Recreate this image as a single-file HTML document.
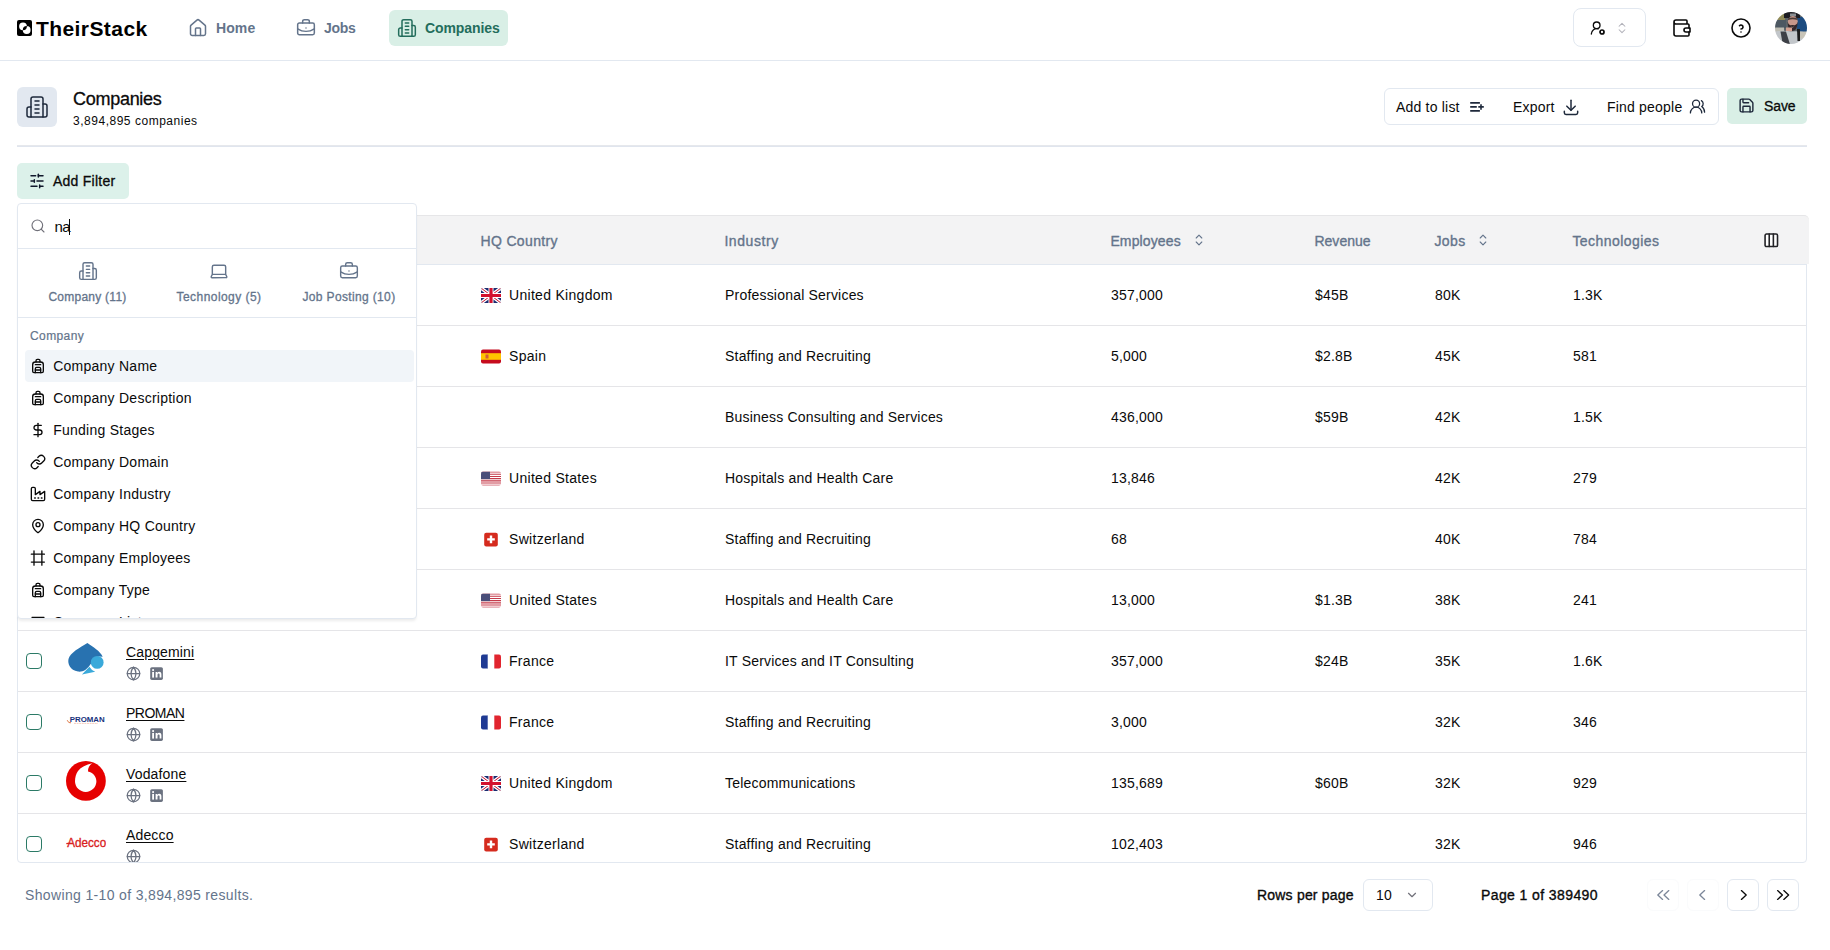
<!DOCTYPE html>
<html><head><meta charset="utf-8">
<style>
*{box-sizing:border-box;margin:0;padding:0}
html,body{width:1830px;height:950px;overflow:hidden;background:#fff}
body{font-family:"Liberation Sans",sans-serif;color:#0a0a0a;font-size:14px;position:relative}
.abs{position:absolute}
svg{display:block}
.nav{position:absolute;left:0;top:0;width:1830px;height:61px;border-bottom:1px solid #e2e8f0}
.logo-sq{position:absolute;left:17px;top:20px;width:15px;height:16px;background:#000;border-radius:2px}
.logo-t{position:absolute;left:36px;top:16px;font-size:21px;font-weight:700;letter-spacing:0.42px;line-height:26px;color:#000}
.ni{position:absolute;top:10px;height:36px;border-radius:6px;display:flex;align-items:center;font-weight:700;font-size:14px;color:#64748b;letter-spacing:0.1px}
.ni svg{margin-right:8px}
.ni.active{background:#d9efe6;color:#236d5c}
.t{position:absolute;white-space:nowrap;line-height:1}
.hdr-ic{position:absolute;left:17px;top:87px;width:40px;height:40px;background:#e2e8f0;border-radius:6px}
.title{position:absolute;left:73px;top:89px;font-size:18px;line-height:20px;letter-spacing:-0.28px;color:#0a0a0a;-webkit-text-stroke:0.3px #0a0a0a}
.sub{position:absolute;left:73px;top:113px;font-size:12px;line-height:16px;letter-spacing:0.52px;color:#0a0a0a}
.bgrp{position:absolute;left:1384px;top:88px;width:335px;height:37px;border:1px solid #e2e8f0;border-radius:6px}
.bt{position:absolute;top:99px;font-size:14px;line-height:16px;letter-spacing:0.2px;color:#0a0a0a;white-space:nowrap}
.save{position:absolute;left:1727px;top:88px;width:80px;height:36px;background:#d9efe6;border-radius:5px}
.sep{position:absolute;left:17px;top:145px;width:1790px;height:2px;background:linear-gradient(#e6e8ec 0 50%,#e0e5ee 50% 100%)}

.tbl{position:absolute;left:17px;top:215px;width:1790px;height:648px;border:1px solid #e2e8f0;border-radius:4px}
.thead{position:absolute;left:17px;top:215px;width:1792px;height:49px;background:#f3f3f4;border-top:1px solid #e6e6e8;border-radius:5px 5px 0 0}
.thb{position:absolute;left:18px;top:264px;width:1788px;height:1px;background:#e2e8f0}
.th{position:absolute;top:233px;font-size:14px;line-height:16px;color:#64748b;white-space:nowrap;-webkit-text-stroke:0.35px #64748b}
.row{position:absolute;left:0;width:1830px;height:60px}
.rl{position:absolute;left:18px;width:1788px;height:1px;background:#e5e5e8}
.row .c{position:absolute;top:20px;font-size:14px;line-height:20px;color:#0a0a0a;white-space:nowrap;letter-spacing:0.2px}
.row .cc{letter-spacing:0.3px}
.th{margin-left:-0.6px}
.chk{position:absolute;left:26px;top:22px;width:16px;height:16px;border:1px solid #2b7a66;border-radius:4px}
.lg{position:absolute;left:66px;top:10px;width:40px;height:40px}
.nm{position:absolute;left:126px;top:11px;font-size:14px;line-height:20px;color:#0a0a0a;text-decoration:underline;text-underline-offset:2px;letter-spacing:0.15px}
.ic1{position:absolute;left:126px;top:35px}
.ic2{position:absolute;left:149px;top:35px}
.fl{position:absolute;left:481px;top:22.5px}

.dd{position:absolute;left:17px;top:203px;width:400px;height:416px;background:#fff;border:1px solid #e2e8f0;border-radius:4px;box-shadow:0 3px 3px -1px rgba(0,0,0,0.08);overflow:hidden}
.dd .sr{position:absolute;left:0;top:0;width:100%;height:45px;border-bottom:1px solid #e2e8f0}
.dd .tabs{position:absolute;left:0;top:45px;width:100%;height:69px;border-bottom:1px solid #e2e8f0}
.dd .tab{position:absolute;top:0;height:69px;text-align:center;font-size:12px;color:#64748b;white-space:nowrap;letter-spacing:0.35px;-webkit-text-stroke:0.3px #64748b}
.dd .tab svg{position:absolute;left:50%;margin-left:-10px;top:12px}
.dd .tab span{position:absolute;left:0;right:0;top:41px;line-height:14px}
.dd .lbl{position:absolute;left:12px;top:125px;font-size:12px;line-height:14px;color:#64748b;letter-spacing:0.4px;-webkit-text-stroke:0.2px #64748b}
.dd .it{position:absolute;left:7px;width:389px;height:32px;border-radius:4px}
.dd .it.hl{background:#f1f5f9}
.dd .it svg{position:absolute;left:5px;top:8px}
.dd .it span{position:absolute;left:28.2px;top:6px;font-size:14px;line-height:20px;color:#0a0a0a;white-space:nowrap;letter-spacing:0.25px}
.addf{position:absolute;left:17px;top:163px;width:112px;height:36px;background:#dcf1ea;border-radius:5px}

</style></head><body>
<div class="nav">
  <div class="logo-sq"><svg width="15" height="16" viewBox="0 0 15 16"><path fill="#fff" fill-rule="evenodd" d="M2.1 6.3a3.9 3.9 0 1 0 7.8 0a3.9 3.9 0 1 0 -7.8 0Z M5.8 10a3.9 3.9 0 1 0 7.8 0a3.9 3.9 0 1 0 -7.8 0Z"/></svg></div>
  <div class="logo-t">TheirStack</div>
  <div class="ni" style="left:180px;padding:0 8px 0 8px"><svg width="20" height="20" viewBox="0 0 24 24" fill="none" stroke="#64748b" stroke-width="1.8" stroke-linecap="round" stroke-linejoin="round"><path d="M15 21v-8a1 1 0 0 0-1-1h-4a1 1 0 0 0-1 1v8"/><path d="M3 10a2 2 0 0 1 .709-1.528l7-5.999a2 2 0 0 1 2.582 0l7 5.999A2 2 0 0 1 21 10v9a2 2 0 0 1-2 2H5a2 2 0 0 1-2-2z"/></svg>Home</div>
  <div class="ni" style="left:288px;padding:0 8px 0 8px"><svg width="20" height="20" viewBox="0 0 24 24" fill="none" stroke="#64748b" stroke-width="1.8" stroke-linecap="round" stroke-linejoin="round"><path d="M12 12h.01"/><path d="M16 6V4a2 2 0 0 0-2-2h-4a2 2 0 0 0-2 2v2"/><path d="M22 13a18.15 18.15 0 0 1-20 0"/><rect width="20" height="14" x="2" y="6" rx="2"/></svg><span style="letter-spacing:-0.3px">Jobs</span></div>
  <div class="ni active" style="left:389px;width:119px;padding:0 0 0 8px"><svg width="20" height="20" viewBox="0 0 24 24" fill="none" stroke="#236d5c" stroke-width="1.8" stroke-linecap="round" stroke-linejoin="round"><path d="M6 22V4a2 2 0 0 1 2-2h8a2 2 0 0 1 2 2v18Z"/><path d="M6 12H4a2 2 0 0 0-2 2v6a2 2 0 0 0 2 2h2"/><path d="M18 9h2a2 2 0 0 1 2 2v9a2 2 0 0 1-2 2h-2"/><path d="M10 6h4"/><path d="M10 10h4"/><path d="M10 14h4"/><path d="M10 18h4"/></svg><span style="letter-spacing:-0.1px">Companies</span></div>

  <div class="abs" style="left:1573px;top:8px;width:73px;height:39px;border:1px solid #e2e8f0;border-radius:8px"></div>
  <svg class="abs" style="left:1590px;top:20px" width="16" height="16" viewBox="0 0 24 24" fill="none" stroke="#0a0a0a" stroke-width="2" stroke-linecap="round" stroke-linejoin="round"><path d="M2 21a8 8 0 0 1 10.434-7.62"/><circle cx="10" cy="8" r="5"/><circle cx="18" cy="18" r="3" stroke-width="2.6"/></svg>
  <svg class="abs" style="left:1615px;top:20.75px" width="14" height="14" viewBox="0 0 24 24" fill="none" stroke="#b2b2ba" stroke-width="1.8" stroke-linecap="round" stroke-linejoin="round"><path d="m7 15 5 5 5-5"/><path d="m7 9 5-5 5 5"/></svg>
  <svg class="abs" style="left:1669.5px;top:15.75px" width="24" height="24" viewBox="0 0 24 24" fill="none" stroke="#0a0a0a" stroke-width="1.6" stroke-linecap="round" stroke-linejoin="round"><path d="M17 8v-3a1 1 0 0 0 -1 -1h-10a2 2 0 0 0 0 4h12a1 1 0 0 1 1 1v3m0 4v3a1 1 0 0 1 -1 1h-12a2 2 0 0 1 -2 -2v-12"/><path d="M20 12v4h-4a2 2 0 0 1 0 -4h4"/></svg>
  <svg class="abs" style="left:1729px;top:15.75px" width="24" height="24" viewBox="0 0 24 24" fill="none" stroke="#0a0a0a" stroke-width="1.6" stroke-linecap="round" stroke-linejoin="round"><path d="M12 12m-9 0a9 9 0 1 0 18 0a9 9 0 1 0 -18 0"/><path d="M12 16v.01"/><path d="M12 13a2 2 0 0 0 .914 -3.782a1.98 1.98 0 0 0 -2.414 .483"/></svg>
  <svg class="abs" style="left:1775px;top:12px" width="32" height="32" viewBox="0 0 32 32"><defs><clipPath id="av"><circle cx="16" cy="16" r="16"/></clipPath><filter id="avb" x="-10%" y="-10%" width="120%" height="120%"><feGaussianBlur stdDeviation="0.7"/></filter></defs><g clip-path="url(#av)"><g filter="url(#avb)">
<rect x="-2" y="-2" width="36" height="36" fill="#5d6468"/>
<rect x="-2" y="-2" width="12" height="10" fill="#8f8a58"/>
<rect x="-2" y="8" width="13" height="8" fill="#4d5962"/>
<rect x="-2" y="15.5" width="11" height="5" fill="#bdbcb2"/>
<rect x="22" y="5" width="12" height="15" fill="#1d4b80"/>
<path d="M9 -2 H25 V6 H9Z" fill="#1e1e22"/>
<path d="M15 1.5 H21 V4.5 H15Z" fill="#8a8e92"/>
<ellipse cx="17.8" cy="9.6" rx="4.9" ry="5.6" fill="#c9978a"/><path d="M13 6.5 Q17.5 4.5 22.5 6.5 L22.5 8 Q17.5 6.5 13 8Z" fill="#4a3a36"/>
<path d="M12.6 10 Q12.8 19 17.5 19 Q22.2 18.8 22.8 10 Q21.5 13.5 19.5 13.2 Q17.5 12.6 15.5 13.2 Q13.5 13.4 12.6 10Z" fill="#35282a"/><path d="M16 14.6 Q17.6 16.2 19.4 14.6 Q17.6 15.4 16 14.6Z" fill="#d9c8c0"/>
<rect x="11" y="15.5" width="6" height="4" fill="#d4a090"/>
<path d="M-2 20 Q8 18 16 19.5 Q24 18.5 34 21 V34 H-2Z" fill="#c2c6ca"/>
<path d="M5.5 19.5 L11 19.5 L15.5 34 L8 34Z" fill="#3c4046"/>
<path d="M22 17 L25 17 L25 29 L22.5 29Z" fill="#1a1a1c"/>
<rect x="25" y="19.5" width="7" height="7" fill="#c8c4b8"/>
</g></g></svg>
</div>

<div class="hdr-ic"><svg class="abs" style="left:8px;top:8px" width="24" height="24" viewBox="0 0 24 24" fill="none" stroke="#1e293b" stroke-width="1.5" stroke-linecap="round" stroke-linejoin="round"><path d="M6 22V4a2 2 0 0 1 2-2h8a2 2 0 0 1 2 2v18Z"/><path d="M6 12H4a2 2 0 0 0-2 2v6a2 2 0 0 0 2 2h2"/><path d="M18 9h2a2 2 0 0 1 2 2v9a2 2 0 0 1-2 2h-2"/><path d="M10 6h4"/><path d="M10 10h4"/><path d="M10 14h4"/><path d="M10 18h4"/></svg></div>
<div class="title">Companies</div>
<div class="sub">3,894,895 companies</div>
<div class="bgrp"></div>
<div class="bt" style="left:1396px">Add to list</div>
<svg class="abs" style="left:1469px;top:99px" width="16" height="16" viewBox="0 0 16 16" fill="none" stroke="#1e293b" stroke-width="1.6"><path d="M1.2 3.9h9.7M1.2 7.9h6.6M1.2 11.9h9.7M9.3 7.9h5.5M12 5.2v5.5"/></svg>
<div class="bt" style="left:1513px">Export</div>
<svg class="abs" style="left:1561px;top:97px" width="20" height="20" viewBox="0 0 24 24" fill="none" stroke="#1e293b" stroke-width="1.8" stroke-linecap="round" stroke-linejoin="round"><path d="M4 17v2a2 2 0 0 0 2 2h12a2 2 0 0 0 2 -2v-2"/><path d="M7 11l5 5l5 -5"/><path d="M12 4l0 12"/></svg>
<div class="bt" style="left:1607px">Find people</div>
<svg class="abs" style="left:1689px;top:98px" width="17" height="17" viewBox="0 0 24 24" fill="none" stroke="#1e293b" stroke-width="1.8" stroke-linecap="round" stroke-linejoin="round"><path d="M18 21a8 8 0 0 0-16 0"/><circle cx="10" cy="8" r="5"/><path d="M22 20c0-3.37-2-6.5-4-8a5 5 0 0 0-.45-8.3"/></svg>
<div class="save"></div>
<svg class="abs" style="left:1738px;top:97px" width="17" height="17" viewBox="0 0 24 24" fill="none" stroke="#1e293b" stroke-width="2" stroke-linecap="round" stroke-linejoin="round"><path d="M15.2 3a2 2 0 0 1 1.4.6l3.8 3.8a2 2 0 0 1 .6 1.4V19a2 2 0 0 1-2 2H5a2 2 0 0 1-2-2V5a2 2 0 0 1 2-2z"/><path d="M17 21v-7a1 1 0 0 0-1-1H8a1 1 0 0 0-1 1v7"/><path d="M7 3v4a1 1 0 0 0 1 1h7"/></svg>
<div class="bt" style="left:1764px;top:98px;-webkit-text-stroke:0.3px #0a0a0a;letter-spacing:-0.1px">Save</div>
<div class="sep"></div>
<div class="addf"></div>
<svg class="abs" style="left:29px;top:173px" width="16" height="16" viewBox="0 0 24 24" fill="none" stroke="#0f172a" stroke-width="2.2" stroke-linecap="round" stroke-linejoin="round"><line x1="21" x2="14" y1="4" y2="4"/><line x1="10" x2="3" y1="4" y2="4"/><line x1="21" x2="12" y1="12" y2="12"/><line x1="8" x2="3" y1="12" y2="12"/><line x1="21" x2="16" y1="20" y2="20"/><line x1="12" x2="3" y1="20" y2="20"/><line x1="14" x2="14" y1="2" y2="6"/><line x1="8" x2="8" y1="10" y2="14"/><line x1="16" x2="16" y1="18" y2="22"/></svg>
<div class="bt" style="left:53px;top:173px;letter-spacing:0.25px;-webkit-text-stroke:0.3px #0a0a0a">Add Filter</div>

<div class="tbl"></div><div class="thead"></div><div class="thb"></div>
<div class="th" style="left:481px;letter-spacing:0.36px">HQ Country</div>
<div class="th" style="left:725px;letter-spacing:0.56px">Industry</div>
<div class="th" style="left:1111px;letter-spacing:0.13px">Employees</div>
<svg class="abs" style="left:1194px;top:234px" width="10" height="12" viewBox="0 0 10 12" fill="none" stroke="#64748b" stroke-width="1.1" stroke-linecap="round" stroke-linejoin="round"><path d="M2.2 4 L5 1.2 L7.8 4"/><path d="M2.2 8 L5 10.8 L7.8 8"/></svg>
<div class="th" style="left:1315px;letter-spacing:0.03px">Revenue</div>
<div class="th" style="left:1435px;letter-spacing:0.4px">Jobs</div>
<svg class="abs" style="left:1478px;top:234px" width="10" height="12" viewBox="0 0 10 12" fill="none" stroke="#64748b" stroke-width="1.1" stroke-linecap="round" stroke-linejoin="round"><path d="M2.2 4 L5 1.2 L7.8 4"/><path d="M2.2 8 L5 10.8 L7.8 8"/></svg>
<div class="th" style="left:1573px;letter-spacing:0.44px">Technologies</div>
<svg class="abs" style="left:1762.7px;top:231.6px" width="16.6" height="16.6" viewBox="0 0 24 24" fill="#fff" stroke="#222226" stroke-width="2.3" stroke-linecap="round" stroke-linejoin="round"><rect width="18" height="18" x="3" y="3" rx="2"/><path d="M9 3v18"/><path d="M15 3v18"/></svg>
<div class="rl" style="top:325px"></div><div class="rl" style="top:386px"></div><div class="rl" style="top:447px"></div><div class="rl" style="top:508px"></div><div class="rl" style="top:569px"></div><div class="rl" style="top:630px"></div><div class="rl" style="top:691px"></div><div class="rl" style="top:752px"></div><div class="rl" style="top:813px"></div>
<div class="row" style="top:265px"><div class="chk"></div><div class="fl"><svg width="20" height="15" viewBox="0 0 20 15"><defs><clipPath id="cu0"><rect width="20" height="15" rx="2"/></clipPath></defs><g clip-path="url(#cu0)"><rect width="20" height="15" fill="#1b2b70"/><path d="M0 0L20 15M20 0L0 15" stroke="#fff" stroke-width="3.4"/><path d="M0 0L20 15M20 0L0 15" stroke="#c8102e" stroke-width="1"/><path d="M7.5 0h5v15h-5ZM0 5h20v5H0Z" fill="#fff"/><path d="M8.4 0h3.2v15H8.4ZM0 5.9h20v3.2H0Z" fill="#d3112e"/></g></svg></div><div class="c cc" style="left:509px">United Kingdom</div><div class="c" style="left:725px">Professional Services</div><div class="c" style="left:1111px">357,000</div><div class="c" style="left:1315px">$45B</div><div class="c" style="left:1435px">80K</div><div class="c" style="left:1573px">1.3K</div></div>
<div class="row" style="top:326px"><div class="chk"></div><div class="fl"><svg width="20" height="15" viewBox="0 0 20 15"><defs><clipPath id="ce1"><rect y="0.5" width="20" height="14" rx="2"/></clipPath></defs><g clip-path="url(#ce1)"><rect width="20" height="15" fill="#c60b1e"/><rect y="4.2" width="20" height="6.6" fill="#ffc400"/><rect x="4.5" y="5.5" width="3" height="4" fill="#c8414b" opacity="0.8"/></g></svg></div><div class="c cc" style="left:509px">Spain</div><div class="c" style="left:725px">Staffing and Recruiting</div><div class="c" style="left:1111px">5,000</div><div class="c" style="left:1315px">$2.8B</div><div class="c" style="left:1435px">45K</div><div class="c" style="left:1573px">581</div></div>
<div class="row" style="top:387px"><div class="chk"></div><div class="c" style="left:725px">Business Consulting and Services</div><div class="c" style="left:1111px">436,000</div><div class="c" style="left:1315px">$59B</div><div class="c" style="left:1435px">42K</div><div class="c" style="left:1573px">1.5K</div></div>
<div class="row" style="top:448px"><div class="chk"></div><div class="fl"><svg width="20" height="15" viewBox="0 0 20 15"><defs><clipPath id="cs3"><rect y="0.5" width="20" height="14" rx="2"/></clipPath></defs><g clip-path="url(#cs3)"><rect width="20" height="15" fill="#fff"/><path d="M0 0.5h20v1.1H0ZM0 2.7h20v1.1H0ZM0 4.9h20v1.1H0ZM0 7.1h20v1.1H0ZM0 9.3h20v1.1H0ZM0 11.5h20v1.1H0ZM0 13.7h20v1.1H0Z" fill="#c53a4a"/><rect y="0.5" width="9" height="7.6" fill="#4a4e79"/></g></svg></div><div class="c cc" style="left:509px">United States</div><div class="c" style="left:725px">Hospitals and Health Care</div><div class="c" style="left:1111px">13,846</div><div class="c" style="left:1435px">42K</div><div class="c" style="left:1573px">279</div></div>
<div class="row" style="top:509px"><div class="chk"></div><div class="fl"><svg width="20" height="15" viewBox="0 0 20 15"><rect x="3.2" y="0.8" width="13.6" height="13.6" rx="2" fill="#d52b1e"/><path d="M8.8 3.6h2.4v2.6h2.6v2.4h-2.6v2.6H8.8V8.6H6.2V6.2h2.6Z" fill="#fff"/></svg></div><div class="c cc" style="left:509px">Switzerland</div><div class="c" style="left:725px">Staffing and Recruiting</div><div class="c" style="left:1111px">68</div><div class="c" style="left:1435px">40K</div><div class="c" style="left:1573px">784</div></div>
<div class="row" style="top:570px"><div class="chk"></div><div class="fl"><svg width="20" height="15" viewBox="0 0 20 15"><defs><clipPath id="cs5"><rect y="0.5" width="20" height="14" rx="2"/></clipPath></defs><g clip-path="url(#cs5)"><rect width="20" height="15" fill="#fff"/><path d="M0 0.5h20v1.1H0ZM0 2.7h20v1.1H0ZM0 4.9h20v1.1H0ZM0 7.1h20v1.1H0ZM0 9.3h20v1.1H0ZM0 11.5h20v1.1H0ZM0 13.7h20v1.1H0Z" fill="#c53a4a"/><rect y="0.5" width="9" height="7.6" fill="#4a4e79"/></g></svg></div><div class="c cc" style="left:509px">United States</div><div class="c" style="left:725px">Hospitals and Health Care</div><div class="c" style="left:1111px">13,000</div><div class="c" style="left:1315px">$1.3B</div><div class="c" style="left:1435px">38K</div><div class="c" style="left:1573px">241</div></div>
<div class="row" style="top:631px"><div class="chk"></div><div class="lg" style="top:10px"><svg width="40" height="40" viewBox="0 0 40 40"><path d="M21.4 2.1 C27 6 34 10 36.7 15.8 L33 15.5 C27 17 25 25 19.2 29 C17 30.5 14 31 12 30.6 C4 29 1.5 23 2.5 18 C4 12 14 6.5 21.4 2.1Z" fill="#2872b0"/><circle cx="31.2" cy="21.4" r="6.4" fill="#3aa9da"/><path d="M15.9 33.6 L23.4 25.8 Q25.5 29.5 29.2 30.8 Z" fill="#3aa9da"/></svg></div><div class="nm">Capgemini</div><div class="ic1"><svg width="15" height="15" viewBox="0 0 24 24" fill="none" stroke="#6b7280" stroke-width="2" stroke-linecap="round" stroke-linejoin="round"><circle cx="12" cy="12" r="10"/><path d="M12 2a14.5 14.5 0 0 0 0 20 14.5 14.5 0 0 0 0-20"/><path d="M2 12h20"/></svg></div><div class="ic2"><svg width="15" height="15" viewBox="0 0 15 15"><rect x="1.2" y="1.2" width="12.7" height="12.7" rx="1.6" fill="#6b7280"/><rect x="3.2" y="6" width="1.8" height="5.6" fill="#fff"/><circle cx="4.1" cy="4.1" r="1.05" fill="#fff"/><path d="M6.6 6h1.7v0.9c0.4-0.7 1.1-1.05 2-1.05c1.5 0 2.1 0.9 2.1 2.5v3.25h-1.8V8.6c0-0.8-0.3-1.2-0.9-1.2c-0.7 0-1.2 0.45-1.2 1.3v2.9H6.6Z" fill="#fff"/></svg></div><div class="fl"><svg width="20" height="15" viewBox="0 0 20 15"><defs><clipPath id="cf6"><rect y="0.5" width="20" height="14" rx="2"/></clipPath></defs><g clip-path="url(#cf6)"><rect width="7" height="15" fill="#1f3a93"/><rect x="6.7" width="6.6" height="15" fill="#fff"/><rect x="13.3" width="6.7" height="15" fill="#e1252f"/></g></svg></div><div class="c cc" style="left:509px">France</div><div class="c" style="left:725px">IT Services and IT Consulting</div><div class="c" style="left:1111px">357,000</div><div class="c" style="left:1315px">$24B</div><div class="c" style="left:1435px">35K</div><div class="c" style="left:1573px">1.6K</div></div>
<div class="row" style="top:692px"><div class="chk"></div><div class="lg" style="top:9px"><svg width="40" height="40" viewBox="0 0 40 40"><text x="3.7" y="20.6" font-family="Liberation Sans" font-weight="700" font-size="7.8" fill="#17327c" textLength="35" lengthAdjust="spacingAndGlyphs">PROMAN</text><path d="M1.2 19.2 Q2.5 22.5 5 21.8" stroke="#e07a4a" stroke-width="1" fill="none"/><path d="M8 22.4h24" stroke="#f0b8a0" stroke-width="0.7" stroke-dasharray="2 0.6"/></svg></div><div class="nm" style="letter-spacing:-0.5px">PROMAN</div><div class="ic1"><svg width="15" height="15" viewBox="0 0 24 24" fill="none" stroke="#6b7280" stroke-width="2" stroke-linecap="round" stroke-linejoin="round"><circle cx="12" cy="12" r="10"/><path d="M12 2a14.5 14.5 0 0 0 0 20 14.5 14.5 0 0 0 0-20"/><path d="M2 12h20"/></svg></div><div class="ic2"><svg width="15" height="15" viewBox="0 0 15 15"><rect x="1.2" y="1.2" width="12.7" height="12.7" rx="1.6" fill="#6b7280"/><rect x="3.2" y="6" width="1.8" height="5.6" fill="#fff"/><circle cx="4.1" cy="4.1" r="1.05" fill="#fff"/><path d="M6.6 6h1.7v0.9c0.4-0.7 1.1-1.05 2-1.05c1.5 0 2.1 0.9 2.1 2.5v3.25h-1.8V8.6c0-0.8-0.3-1.2-0.9-1.2c-0.7 0-1.2 0.45-1.2 1.3v2.9H6.6Z" fill="#fff"/></svg></div><div class="fl"><svg width="20" height="15" viewBox="0 0 20 15"><defs><clipPath id="cf7"><rect y="0.5" width="20" height="14" rx="2"/></clipPath></defs><g clip-path="url(#cf7)"><rect width="7" height="15" fill="#1f3a93"/><rect x="6.7" width="6.6" height="15" fill="#fff"/><rect x="13.3" width="6.7" height="15" fill="#e1252f"/></g></svg></div><div class="c cc" style="left:509px">France</div><div class="c" style="left:725px">Staffing and Recruiting</div><div class="c" style="left:1111px">3,000</div><div class="c" style="left:1435px">32K</div><div class="c" style="left:1573px">346</div></div>
<div class="row" style="top:753px"><div class="chk"></div><div class="lg" style="top:8px"><svg width="40" height="40" viewBox="0 0 40 40"><circle cx="19.9" cy="19.9" r="19.9" fill="#e60000"/><path d="M26.3 2.2 C20 3.5 15 6 12 10 C10 13 9 16.5 9 20.3 A10.7 10.7 0 0 0 30.4 20.3 C30.4 15.5 27 11.5 22 10.4 C21.8 7 23.5 4 26.3 2.2 Z" fill="#fff"/></svg></div><div class="nm">Vodafone</div><div class="ic1"><svg width="15" height="15" viewBox="0 0 24 24" fill="none" stroke="#6b7280" stroke-width="2" stroke-linecap="round" stroke-linejoin="round"><circle cx="12" cy="12" r="10"/><path d="M12 2a14.5 14.5 0 0 0 0 20 14.5 14.5 0 0 0 0-20"/><path d="M2 12h20"/></svg></div><div class="ic2"><svg width="15" height="15" viewBox="0 0 15 15"><rect x="1.2" y="1.2" width="12.7" height="12.7" rx="1.6" fill="#6b7280"/><rect x="3.2" y="6" width="1.8" height="5.6" fill="#fff"/><circle cx="4.1" cy="4.1" r="1.05" fill="#fff"/><path d="M6.6 6h1.7v0.9c0.4-0.7 1.1-1.05 2-1.05c1.5 0 2.1 0.9 2.1 2.5v3.25h-1.8V8.6c0-0.8-0.3-1.2-0.9-1.2c-0.7 0-1.2 0.45-1.2 1.3v2.9H6.6Z" fill="#fff"/></svg></div><div class="fl"><svg width="20" height="15" viewBox="0 0 20 15"><defs><clipPath id="cu8"><rect width="20" height="15" rx="2"/></clipPath></defs><g clip-path="url(#cu8)"><rect width="20" height="15" fill="#1b2b70"/><path d="M0 0L20 15M20 0L0 15" stroke="#fff" stroke-width="3.4"/><path d="M0 0L20 15M20 0L0 15" stroke="#c8102e" stroke-width="1"/><path d="M7.5 0h5v15h-5ZM0 5h20v5H0Z" fill="#fff"/><path d="M8.4 0h3.2v15H8.4ZM0 5.9h20v3.2H0Z" fill="#d3112e"/></g></svg></div><div class="c cc" style="left:509px">United Kingdom</div><div class="c" style="left:725px">Telecommunications</div><div class="c" style="left:1111px">135,689</div><div class="c" style="left:1315px">$60B</div><div class="c" style="left:1435px">32K</div><div class="c" style="left:1573px">929</div></div>
<div class="row" style="top:814px;height:48px;overflow:hidden"><div class="chk"></div><div class="lg" style="top:11px"><svg width="40" height="40" viewBox="0 0 40 40"><text x="1.2" y="21.9" font-family="Liberation Sans" font-size="13.4" fill="#d9221d" stroke="#d9221d" stroke-width="0.35" textLength="39" lengthAdjust="spacingAndGlyphs">Adecco</text><path d="M0.3 18.6 L4.2 18.2" stroke="#d9221d" stroke-width="1.3"/></svg></div><div class="nm">Adecco</div><div class="ic1"><svg width="15" height="15" viewBox="0 0 24 24" fill="none" stroke="#6b7280" stroke-width="2" stroke-linecap="round" stroke-linejoin="round"><circle cx="12" cy="12" r="10"/><path d="M12 2a14.5 14.5 0 0 0 0 20 14.5 14.5 0 0 0 0-20"/><path d="M2 12h20"/></svg></div><div class="fl"><svg width="20" height="15" viewBox="0 0 20 15"><rect x="3.2" y="0.8" width="13.6" height="13.6" rx="2" fill="#d52b1e"/><path d="M8.8 3.6h2.4v2.6h2.6v2.4h-2.6v2.6H8.8V8.6H6.2V6.2h2.6Z" fill="#fff"/></svg></div><div class="c cc" style="left:509px">Switzerland</div><div class="c" style="left:725px">Staffing and Recruiting</div><div class="c" style="left:1111px">102,403</div><div class="c" style="left:1435px">32K</div><div class="c" style="left:1573px">946</div></div>


<div class="abs" style="left:25px;top:886px;font-size:14px;line-height:18px;color:#64748b;letter-spacing:0.35px;white-space:nowrap">Showing 1-10 of 3,894,895 results.</div>
<div class="abs" style="left:1257px;top:886px;font-size:14px;line-height:18px;color:#0a0a0a;letter-spacing:0.2px;-webkit-text-stroke:0.35px #0a0a0a;white-space:nowrap">Rows per page</div>
<div class="abs" style="left:1363px;top:879px;width:70px;height:32px;border:1px solid #e2e8f0;border-radius:6px"></div>
<div class="abs" style="left:1376px;top:886px;font-size:14px;line-height:18px;color:#0a0a0a;letter-spacing:0.2px">10</div>
<svg class="abs" style="left:1405px;top:888px" width="14" height="14" viewBox="0 0 24 24" fill="none" stroke="#71717a" stroke-width="2" stroke-linecap="round" stroke-linejoin="round"><path d="m6 9 6 6 6-6"/></svg>
<div class="abs" style="left:1481px;top:886px;font-size:14px;line-height:18px;color:#0a0a0a;letter-spacing:0.4px;-webkit-text-stroke:0.35px #0a0a0a;white-space:nowrap">Page 1 of 389490</div>
<div class="abs" style="left:1647px;top:879px;width:32px;height:32px;border:1px solid #fafbfc;border-radius:6px"></div>
<div class="abs" style="left:1687px;top:879px;width:32px;height:32px;border:1px solid #fafbfc;border-radius:6px"></div>
<div class="abs" style="left:1727px;top:879px;width:32px;height:32px;border:1px solid #e2e8f0;border-radius:6px"></div>
<div class="abs" style="left:1767px;top:879px;width:32px;height:32px;border:1px solid #e2e8f0;border-radius:6px"></div>
<svg class="abs" style="left:1640px;top:880px" width="170" height="30" viewBox="1640 880 170 30" fill="none" stroke-width="1.35" stroke-linecap="round" stroke-linejoin="round">
<path d="M1662.6 890.6L1657.8 895L1662.6 899.4M1668.8 890.6L1664 895L1668.8 899.4" stroke="#7c8799"/>
<path d="M1704.6 890.6L1699.8 895L1704.6 899.4" stroke="#7c8799"/>
<path d="M1741.4 890.6L1746.2 895L1741.4 899.4" stroke="#0a0a0a"/>
<path d="M1777.6 890.6L1782.4 895L1777.6 899.4M1783.8 890.6L1788.6 895L1783.8 899.4" stroke="#0a0a0a"/>
</svg>

<div class="dd">
 <div class="sr">
  <svg class="abs" style="left:12px;top:14px" width="16" height="16" viewBox="0 0 24 24" fill="none" stroke="#71717a" stroke-width="1.7" stroke-linecap="round" stroke-linejoin="round"><circle cx="11" cy="11" r="8"/><path d="m21 21-4.3-4.3"/></svg>
  <div class="abs" style="left:36.5px;top:14px;font-size:15px;line-height:18px;color:#0a0a0a;letter-spacing:-0.6px">na</div>
  <div class="abs" style="left:51px;top:14.5px;width:1.2px;height:16px;background:#0a0a0a"></div>
 </div>
 <div class="tabs">
  <div class="tab" style="left:0;width:139px;letter-spacing:0.25px"><svg width="20" height="20" viewBox="0 0 24 24" fill="none" stroke="#64748b" stroke-width="1.7" stroke-linecap="round" stroke-linejoin="round"><path d="M6 22V4a2 2 0 0 1 2-2h8a2 2 0 0 1 2 2v18Z"/><path d="M6 12H4a2 2 0 0 0-2 2v6a2 2 0 0 0 2 2h2"/><path d="M18 9h2a2 2 0 0 1 2 2v9a2 2 0 0 1-2 2h-2"/><path d="M10 6h4"/><path d="M10 10h4"/><path d="M10 14h4"/><path d="M10 18h4"/></svg><span>Company (11)</span></div>
  <div class="tab" style="left:136px;width:130px;letter-spacing:0.45px"><svg width="20" height="20" viewBox="0 0 24 24" fill="none" stroke="#64748b" stroke-width="1.7" stroke-linecap="round" stroke-linejoin="round"><path d="M20 16V7a2 2 0 0 0-2-2H6a2 2 0 0 0-2 2v9m16 0H4m16 0 1.28 2.55a1 1 0 0 1-.9 1.45H3.62a1 1 0 0 1-.9-1.45L4 16"/></svg><span>Technology (5)</span></div>
  <div class="tab" style="left:265px;width:132px"><svg width="20" height="20" viewBox="0 0 24 24" fill="none" stroke="#64748b" stroke-width="1.7" stroke-linecap="round" stroke-linejoin="round"><path d="M12 12h.01"/><path d="M16 6V4a2 2 0 0 0-2-2h-4a2 2 0 0 0-2 2v2"/><path d="M22 13a18.15 18.15 0 0 1-20 0"/><rect width="20" height="14" x="2" y="6" rx="2"/></svg><span>Job Posting (10)</span></div>
 </div>
 <div class="lbl">Company</div>
 <div class="it hl" style="top:146px"><svg width="16" height="16" viewBox="0 0 24 24" fill="none" stroke="#0a0a0a" stroke-width="2" stroke-linecap="round" stroke-linejoin="round"><path d="M4 10a4 4 0 0 1 4-4h8a4 4 0 0 1 4 4v10a2 2 0 0 1-2 2H6a2 2 0 0 1-2-2Z"/><path d="M8 10h8"/><path d="M8 18h8"/><path d="M8 22v-6a2 2 0 0 1 2-2h4a2 2 0 0 1 2 2v6"/><path d="M9 6V4a2 2 0 0 1 2-2h2a2 2 0 0 1 2 2v2"/></svg><span>Company Name</span></div><div class="it" style="top:178px"><svg width="16" height="16" viewBox="0 0 24 24" fill="none" stroke="#0a0a0a" stroke-width="2" stroke-linecap="round" stroke-linejoin="round"><path d="M4 10a4 4 0 0 1 4-4h8a4 4 0 0 1 4 4v10a2 2 0 0 1-2 2H6a2 2 0 0 1-2-2Z"/><path d="M8 10h8"/><path d="M8 18h8"/><path d="M8 22v-6a2 2 0 0 1 2-2h4a2 2 0 0 1 2 2v6"/><path d="M9 6V4a2 2 0 0 1 2-2h2a2 2 0 0 1 2 2v2"/></svg><span>Company Description</span></div><div class="it" style="top:210px"><svg width="16" height="16" viewBox="0 0 24 24" fill="none" stroke="#0a0a0a" stroke-width="2" stroke-linecap="round" stroke-linejoin="round"><line x1="12" x2="12" y1="2" y2="22"/><path d="M17 5H9.5a3.5 3.5 0 0 0 0 7h5a3.5 3.5 0 0 1 0 7H6"/></svg><span>Funding Stages</span></div><div class="it" style="top:242px"><svg width="16" height="16" viewBox="0 0 24 24" fill="none" stroke="#0a0a0a" stroke-width="2" stroke-linecap="round" stroke-linejoin="round"><path d="M10 13a5 5 0 0 0 7.54.54l3-3a5 5 0 0 0-7.07-7.07l-1.72 1.71"/><path d="M14 11a5 5 0 0 0-7.54-.54l-3 3a5 5 0 0 0 7.07 7.07l1.71-1.71"/></svg><span>Company Domain</span></div><div class="it" style="top:274px"><svg width="16" height="16" viewBox="0 0 24 24" fill="none" stroke="#0a0a0a" stroke-width="2" stroke-linecap="round" stroke-linejoin="round"><path d="M2 20a2 2 0 0 0 2 2h16a2 2 0 0 0 2-2V8l-7 5V8l-7 5V4a2 2 0 0 0-2-2H4a2 2 0 0 0-2 2Z"/><path d="M17 18h1"/><path d="M12 18h1"/><path d="M7 18h1"/></svg><span>Company Industry</span></div><div class="it" style="top:306px"><svg width="16" height="16" viewBox="0 0 24 24" fill="none" stroke="#0a0a0a" stroke-width="2" stroke-linecap="round" stroke-linejoin="round"><path d="M20 10c0 4.993-5.539 10.193-7.399 11.799a1 1 0 0 1-1.202 0C9.539 20.193 4 14.993 4 10a8 8 0 0 1 16 0"/><circle cx="12" cy="10" r="3"/></svg><span>Company HQ Country</span></div><div class="it" style="top:338px"><svg width="16" height="16" viewBox="0 0 24 24" fill="none" stroke="#0a0a0a" stroke-width="2" stroke-linecap="round" stroke-linejoin="round"><path d="M2 6.3h19.6M2 18.1h19.6M6 1.2v21.6M17.8 1.2v21.6"/></svg><span>Company Employees</span></div><div class="it" style="top:370px"><svg width="16" height="16" viewBox="0 0 24 24" fill="none" stroke="#0a0a0a" stroke-width="2" stroke-linecap="round" stroke-linejoin="round"><path d="M4 10a4 4 0 0 1 4-4h8a4 4 0 0 1 4 4v10a2 2 0 0 1-2 2H6a2 2 0 0 1-2-2Z"/><path d="M8 10h8"/><path d="M8 18h8"/><path d="M8 22v-6a2 2 0 0 1 2-2h4a2 2 0 0 1 2 2v6"/><path d="M9 6V4a2 2 0 0 1 2-2h2a2 2 0 0 1 2 2v2"/></svg><span>Company Type</span></div><div class="it" style="top:402px"><svg width="16" height="16" viewBox="0 0 24 24" fill="none" stroke="#0a0a0a" stroke-width="2" stroke-linecap="round" stroke-linejoin="round"><path d="M3 5h18M3 12h18M3 19h18"/></svg><span>Company List</span></div>
</div>
</body></html>
